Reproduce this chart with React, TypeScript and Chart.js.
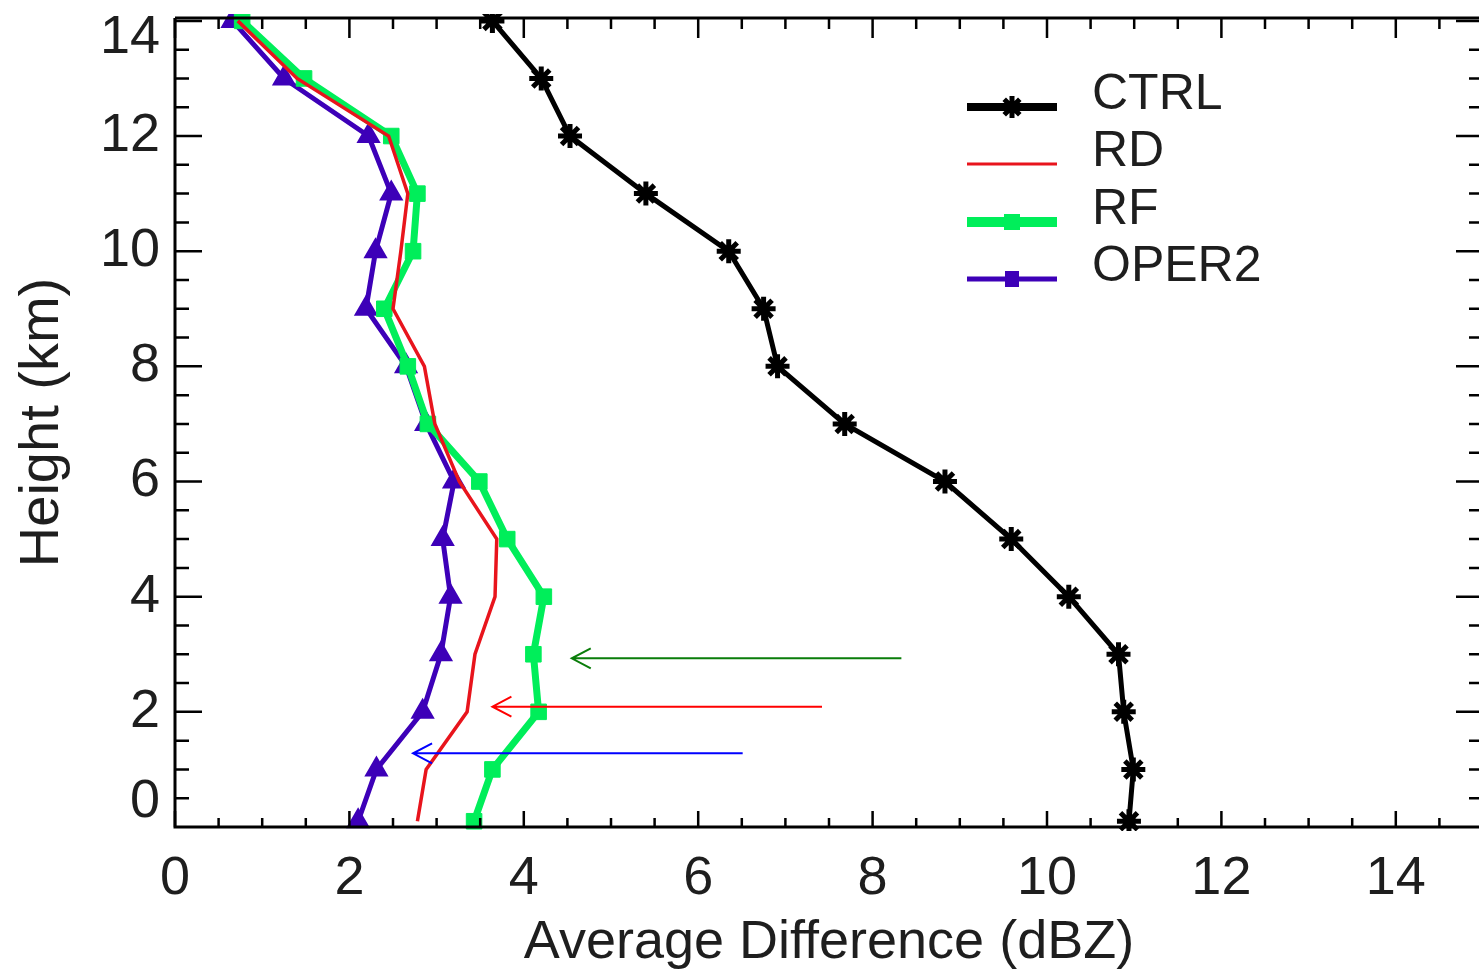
import React, { useEffect, useRef } from "react";
import { Chart, registerables } from "chart.js";

Chart.register(...registerables);

// ---- data ----
const heights = [14, 13, 12, 11, 10, 9, 8, 7, 6, 5, 4, 3, 2, 1, 0.1];
const ctrl = [3.64, 4.2, 4.53, 5.4, 6.35, 6.75, 6.91, 7.68, 8.83, 9.59, 10.25, 10.82, 10.88, 10.99, 10.94];
const rd = [0.72, 1.4, 2.45, 2.67, 2.59, 2.5, 2.86, 2.98, 3.26, 3.69, 3.67, 3.44, 3.35, 2.88, 2.78];
const rf = [0.77, 1.48, 2.48, 2.78, 2.73, 2.4, 2.67, 2.9, 3.49, 3.81, 4.23, 4.11, 4.17, 3.64, 3.43];
const oper2 = [0.66, 1.25, 2.22, 2.48, 2.3, 2.19, 2.65, 2.88, 3.2, 3.07, 3.16, 3.05, 2.84, 2.31, 2.1];

const seriesNames = ["CTRL", "RD", "RF", "OPER2"];

// annotation arrows (data coordinates)
const arrowHeights = [2.93, 2.09, 1.28];
const arrowFrom = [8.33, 7.42, 6.51];
const arrowTo = [4.55, 3.64, 2.73];

const xLabel = "Average Difference (dBZ)";
const yLabel = "Height (km)";

// ---- styles ----
const FONT = "'Liberation Sans', Arial, sans-serif";
const TEXT = "#1e1e1e";
const C_CTRL = "#000000";
const C_RD = "#e8141c";
const C_RF = "#00ee5a";
const C_OPER2 = "#3d00b8";
const arrowColors = ["#0a7d0a", "#ff0000", "#0000ff"];
const TICK_SIZE = 54;

const pts = (xs: number[]) => xs.map((x, i) => ({ x, y: heights[i] }));

const framePlugin = {
  id: "frame",
  afterDatasetsDraw(chart: any) {
    const { ctx, chartArea: a, scales } = chart;
    const xs = scales.x;
    const ys = scales.y;
    ctx.save();

    // arrows
    arrowHeights.forEach((h, i) => {
      const y = ys.getPixelForValue(h);
      const x0 = xs.getPixelForValue(arrowFrom[i]);
      const x1 = xs.getPixelForValue(arrowTo[i]);
      ctx.strokeStyle = arrowColors[i];
      ctx.lineWidth = 2;
      ctx.beginPath();
      ctx.moveTo(x0, y);
      ctx.lineTo(x1, y);
      ctx.moveTo(x1 + 19, y - 10);
      ctx.lineTo(x1, y);
      ctx.lineTo(x1 + 19, y + 10);
      ctx.stroke();
    });

    // frame
    ctx.strokeStyle = "#000";
    ctx.lineWidth = 3;
    ctx.beginPath();
    ctx.moveTo(a.left, a.top);
    ctx.lineTo(a.right, a.top);
    ctx.moveTo(a.left, a.top);
    ctx.lineTo(a.left, a.bottom);
    ctx.lineTo(a.right, a.bottom);
    ctx.stroke();

    // inward ticks
    ctx.lineWidth = 2.5;
    ctx.beginPath();
    for (let v = 0; v <= xs.max + 1e-6; v += 0.5) {
      const px = xs.getPixelForValue(v);
      const major = Math.abs(v % 2) < 1e-6;
      const lb = major ? 16 : 9;
      const lt = major ? 20 : 11;
      ctx.moveTo(px, a.bottom);
      ctx.lineTo(px, a.bottom - lb);
      ctx.moveTo(px, a.top);
      ctx.lineTo(px, a.top + lt);
    }
    for (let v = 0.5; v < ys.max; v += 0.5) {
      const py = ys.getPixelForValue(v);
      const major = Math.abs(v % 2) < 1e-6;
      const l = major ? 27 : 14;
      ctx.moveTo(a.left, py);
      ctx.lineTo(a.left + l, py);
      ctx.moveTo(a.right, py);
      ctx.lineTo(a.right - l, py);
    }
    ctx.stroke();

    // y tick labels (kept inside the frame height like the original)
    ctx.fillStyle = TEXT;
    ctx.font = `${TICK_SIZE}px ${FONT}`;
    ctx.textAlign = "right";
    ctx.textBaseline = "middle";
    ys.ticks.forEach((t: any) => {
      let py = ys.getPixelForValue(t.value);
      py = Math.max(a.top + 20, Math.min(a.bottom - 25, py));
      ctx.fillText(String(t.value), a.left - 15, py);
    });

    // legend
    const lx0 = 967, lx1 = 1057, tx = 1092;
    const textY = [95, 152, 210, 267];
    const styles = [
      { c: C_CTRL, w: 8, m: "star" },
      { c: C_RD, w: 3, m: "none" },
      { c: C_RF, w: 10, m: "rect" },
      { c: C_OPER2, w: 5, m: "sq" },
    ];
    seriesNames.forEach((name, i) => {
      const s = styles[i];
      const ly = textY[i] + 12;
      ctx.strokeStyle = s.c;
      ctx.lineWidth = s.w;
      ctx.beginPath();
      ctx.moveTo(lx0, ly);
      ctx.lineTo(lx1, ly);
      ctx.stroke();
      const cx = (lx0 + lx1) / 2;
      if (s.m === "star") {
        ctx.lineWidth = 5;
        ctx.beginPath();
        const r = 11;
        for (let k = 0; k < 4; k++) {
          const ang = (k * Math.PI) / 4;
          ctx.moveTo(cx - r * Math.cos(ang), ly - r * Math.sin(ang));
          ctx.lineTo(cx + r * Math.cos(ang), ly + r * Math.sin(ang));
        }
        ctx.stroke();
      } else if (s.m === "rect") {
        ctx.fillStyle = s.c;
        ctx.fillRect(cx - 8, ly - 8, 16, 16);
      } else if (s.m === "sq") {
        ctx.fillStyle = s.c;
        ctx.fillRect(cx - 7, ly - 8, 14, 16);
      }
      ctx.fillStyle = TEXT;
      ctx.font = `50px ${FONT}`;
      ctx.textAlign = "left";
      ctx.textBaseline = "middle";
      ctx.fillText(name, tx, textY[i]);
    });

    ctx.restore();
  },
};

export default function App() {
  const ref = useRef<HTMLCanvasElement | null>(null);

  useEffect(() => {
    if (!ref.current) return;
    const chart = new Chart(ref.current, {
      type: "scatter",
      data: {
        datasets: [
          {
            label: seriesNames[1],
            data: pts(rd),
            showLine: true,
            borderColor: C_RD,
            backgroundColor: C_RD,
            borderWidth: 3.5,
            pointRadius: 0,
            order: 0,
            clip: 4,
          },
          {
            label: seriesNames[2],
            data: pts(rf),
            showLine: true,
            borderColor: C_RF,
            backgroundColor: C_RF,
            borderWidth: 7,
            pointStyle: "rect",
            pointRadius: 11,
            pointBorderWidth: 1,
            order: 1,
            clip: 4,
          },
          {
            label: seriesNames[3],
            data: pts(oper2),
            showLine: true,
            borderColor: C_OPER2,
            backgroundColor: C_OPER2,
            borderWidth: 5,
            pointStyle: "triangle",
            pointRadius: 11,
            pointBorderWidth: 3,
            order: 2,
            clip: 4,
          },
          {
            label: seriesNames[0],
            data: pts(ctrl),
            showLine: true,
            borderColor: C_CTRL,
            backgroundColor: C_CTRL,
            borderWidth: 5,
            pointStyle: "star",
            pointRadius: 12,
            pointBorderWidth: 5,
            order: 3,
            clip: 4,
          },
        ],
      },
      options: {
        animation: false,
        responsive: false,
        layout: { padding: { top: 18, right: 5, left: 0, bottom: 0 } },
        plugins: { legend: { display: false }, tooltip: { enabled: false } },
        scales: {
          x: {
            type: "linear",
            min: 0,
            max: 15,
            afterFit: (s: any) => {
              s.height = 149;
              s.paddingLeft = 0;
              s.paddingRight = 0;
            },
            grid: { display: false, drawTicks: false },
            border: { display: false },
            ticks: {
              stepSize: 2,
              includeBounds: false,
              padding: 20,
              color: TEXT,
              font: { family: FONT, size: TICK_SIZE },
            },
            title: {
              display: true,
              text: xLabel,
              color: TEXT,
              font: { family: FONT, size: 54 },
              padding: { top: 0, bottom: 0 },
            },
          },
          y: {
            type: "linear",
            min: 0,
            max: 14.05,
            afterFit: (s: any) => {
              s.width = 175;
              s.paddingTop = 0;
              s.paddingBottom = 0;
            },
            grid: { display: false, drawTicks: false },
            border: { display: false },
            ticks: {
              display: false,
              stepSize: 2,
              includeBounds: false,
            },
            title: {
              display: true,
              text: yLabel,
              color: TEXT,
              font: { family: FONT, size: 56 },
              padding: { top: 9, bottom: 0 },
            },
          },
        },
      },
      plugins: [framePlugin],
    } as any);
    return () => chart.destroy();
  }, []);

  return (
    <div
      style={{
        position: "absolute",
        left: 0,
        top: 0,
        width: 1479,
        height: 976,
        overflow: "hidden",
        background: "#fff",
      }}
    >
      <canvas ref={ref} width={1500} height={976} style={{ display: "block" }} />
    </div>
  );
}
